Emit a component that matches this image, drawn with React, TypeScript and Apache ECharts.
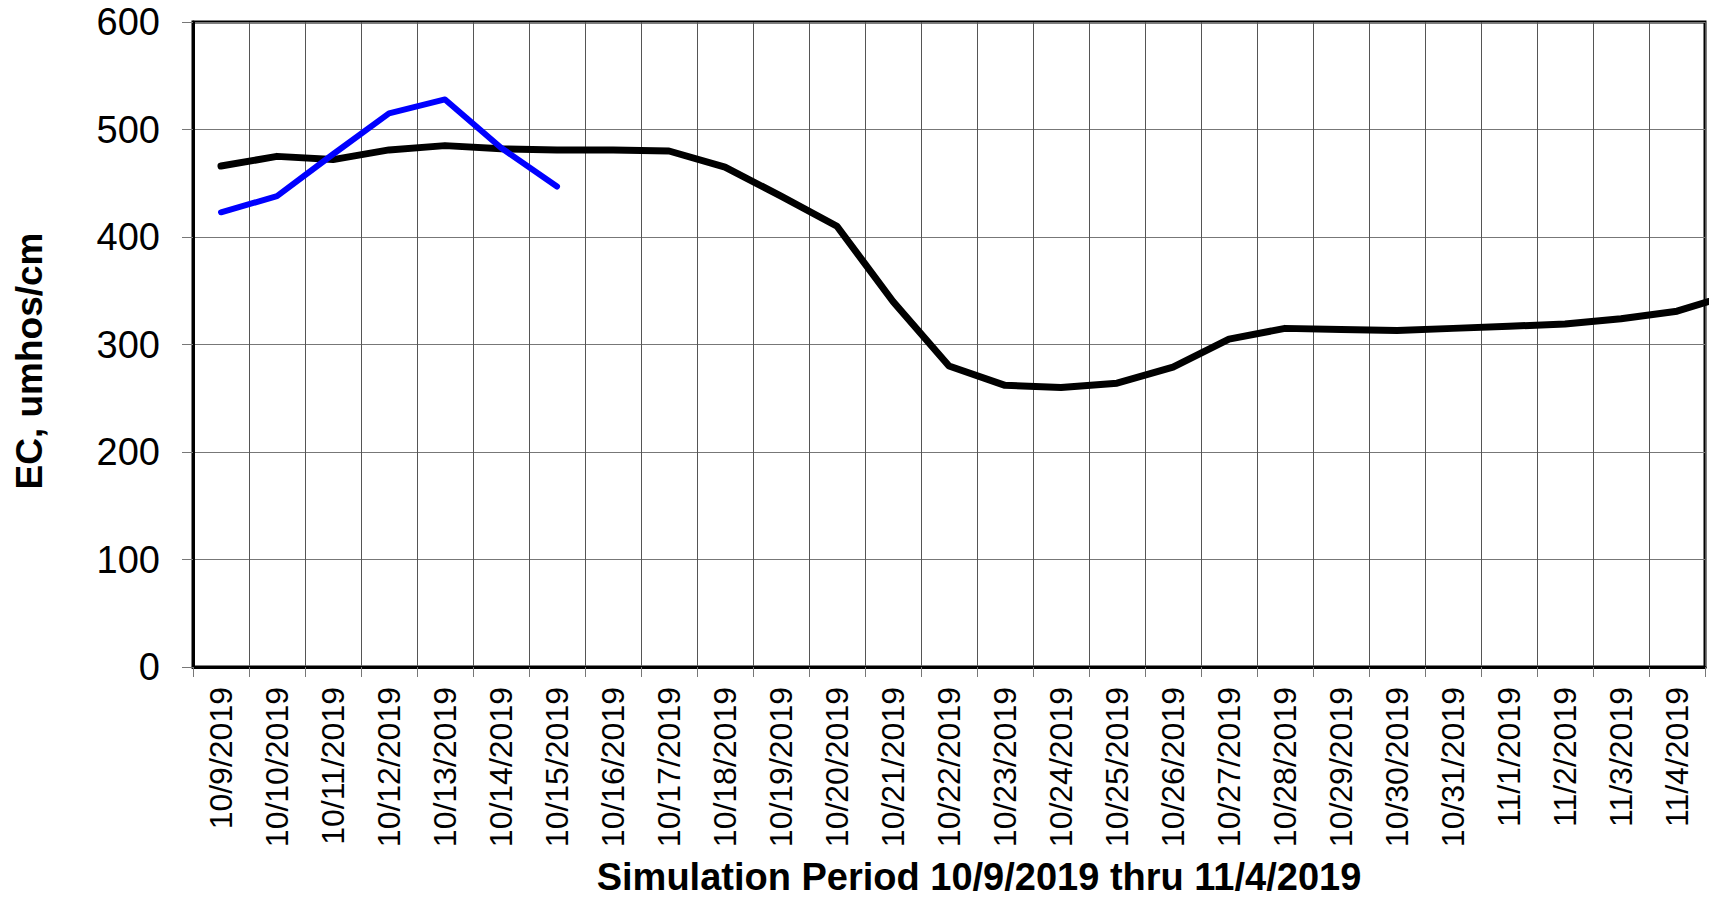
import React, { useEffect, useRef } from "react";
import * as echarts from "echarts";

const dates = [
  "10/9/2019", "10/10/2019", "10/11/2019", "10/12/2019", "10/13/2019", "10/14/2019",
  "10/15/2019", "10/16/2019", "10/17/2019", "10/18/2019", "10/19/2019", "10/20/2019",
  "10/21/2019", "10/22/2019", "10/23/2019", "10/24/2019", "10/25/2019", "10/26/2019",
  "10/27/2019", "10/28/2019", "10/29/2019", "10/30/2019", "10/31/2019", "11/1/2019",
  "11/2/2019", "11/3/2019", "11/4/2019",
];

// Simulated EC (continues one day past the axis, clipped at the plot edge)
const simulatedEC = [
  466, 475, 472, 481, 485, 482, 481, 481, 480, 465, 438, 410, 340, 280, 262, 260,
  264, 279, 305, 315, 314, 313, 315, 317, 319, 324, 331, 347,
];

// Observed EC
const observedEC = [423, 438, 477, 515, 528, 483, 447];

const yTicks = { min: 0, max: 600, interval: 100 };

const FONT = '"Liberation Sans", Arial, sans-serif';

export default function App() {
  const ref = useRef<HTMLDivElement>(null);

  useEffect(() => {
    if (!ref.current) return;
    const chart = echarts.init(ref.current, undefined, { renderer: "svg" });
    chart.setOption({
      animation: false,
      backgroundColor: "#fff",
      grid: {
        left: 193,
        right: 6,
        top: 22,
        bottom: 232,
        show: true,
        borderColor: "#000",
        borderWidth: 3,
        backgroundColor: "transparent",
      },
      xAxis: [
        {
          type: "category",
          data: dates,
          boundaryGap: true,
          axisLine: { show: true, lineStyle: { color: "#000", width: 3 } },
          axisTick: {
            show: true,
            interval: 0,
            length: 10,
            lineStyle: { color: "#777", width: 1 },
          },
          axisLabel: {
            interval: 0,
            rotate: 90,
            fontSize: 32,
            fontFamily: FONT,
            color: "#000",
            margin: 20,
          },
          splitLine: { show: true, interval: 0, lineStyle: { color: "#555", width: 1 } },
        },
        {
          type: "value",
          min: 0,
          max: dates.length,
          show: false,
          splitLine: { show: false },
        },
      ],
      yAxis: {
        type: "value",
        min: yTicks.min,
        max: yTicks.max,
        interval: yTicks.interval,
        axisLine: { show: true, lineStyle: { color: "#000", width: 3 } },
        axisTick: { show: true, length: 11, lineStyle: { color: "#777", width: 1 } },
        axisLabel: {
          fontSize: 38,
          fontFamily: FONT,
          color: "#000",
          margin: 33,
        },
        splitLine: { show: true, lineStyle: { color: "#777", width: 1 } },
      },
      series: [
        {
          type: "line",
          name: "Simulated",
          xAxisIndex: 1,
          data: simulatedEC.map((v, i) => [i + 0.5, v]),
          showSymbol: false,
          symbol: "none",
          clip: true,
          lineStyle: { color: "#000", width: 7, cap: "round", join: "round" },
          z: 3,
        },
        {
          type: "line",
          name: "Observed",
          xAxisIndex: 0,
          data: observedEC,
          showSymbol: false,
          symbol: "none",
          lineStyle: { color: "#0000ff", width: 6, cap: "round", join: "round" },
          z: 4,
        },
      ],
      graphic: [
        {
          type: "text",
          x: 29,
          y: 361,
          rotation: Math.PI / 2,
          style: {
            text: "EC, umhos/cm",
            font: `bold 37px ${FONT}`,
            fill: "#000",
            align: "center",
            verticalAlign: "middle",
          },
        },
        {
          type: "text",
          x: 979,
          y: 877,
          style: {
            text: "Simulation Period 10/9/2019 thru 11/4/2019",
            font: `bold 38px ${FONT}`,
            fill: "#000",
            align: "center",
            verticalAlign: "middle",
          },
        },
      ],
    });
    return () => chart.dispose();
  }, []);

  return (
    <div
      ref={ref}
      style={{ position: "fixed", left: 0, top: 0, width: 1711, height: 899, background: "#fff" }}
    />
  );
}
